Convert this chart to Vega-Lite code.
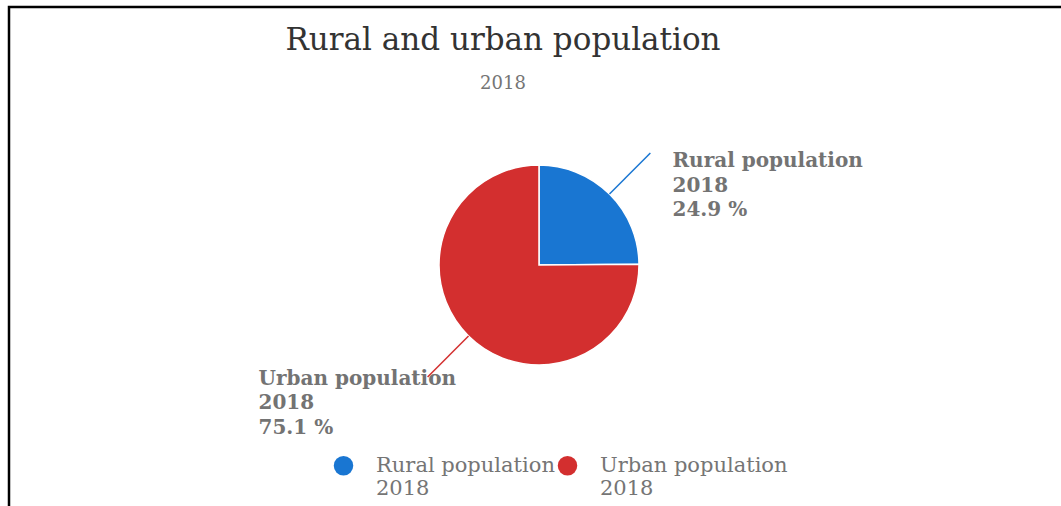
{
  "$schema": "https://vega.github.io/schema/vega-lite/v6.json",
  "width": 1060,
  "height": 516,
  "autosize": {"type": "none"},
  "padding": {"left": 9, "top": 7, "right": -8, "bottom": -17},
  "background": "#ffffff",
  "title": {
    "text": "Rural and urban population",
    "subtitle": "2018",
    "anchor": "middle",
    "dx": -36,
    "offset": -87,
    "font": "DejaVu Serif",
    "fontSize": 31,
    "fontWeight": "normal",
    "color": "#333333",
    "subtitleFont": "DejaVu Serif",
    "subtitleFontSize": 18,
    "subtitleColor": "#757575",
    "subtitlePadding": 18
  },
  "config": {"view": {"stroke": "#000000", "strokeWidth": 2.5}},
  "data": {
    "values": [
      {"category": "Rural population 2018", "value": 24.9, "label": "Rural population\n2018\n24.9 %"},
      {"category": "Urban population 2018", "value": 75.1, "label": "Urban population\n2018\n75.1 %"}
    ]
  },
  "layer": [
    {
      "mark": {"type": "arc", "outerRadius": 100, "stroke": "#ffffff", "strokeWidth": 1.5},
      "encoding": {
        "theta": {"field": "value", "type": "quantitative", "stack": true},
        "order": {"field": "category", "type": "ordinal", "sort": "ascending"},
        "color": {
          "field": "category",
          "type": "nominal",
          "scale": {"domain": ["Rural population 2018", "Urban population 2018"], "range": ["#1976d2", "#d32f2f"]},
          "legend": {
            "orient": "none",
            "legendX": 324,
            "legendY": 448,
            "direction": "horizontal",
            "title": null,
            "symbolType": "circle",
            "symbolSize": 380,
            "symbolStrokeWidth": 0,
            "symbolOpacity": 1,
            "labelFont": "DejaVu Serif",
            "labelFontSize": 21,
            "labelColor": "#757575",
            "labelOffset": 22,
            "labelLimit": 0,
            "labelBaseline": "middle",
            "labelLineHeight": 25,
            "labelExpr": "[replace(datum.label, ' 2018', ''), '2018']",
            "columnPadding": 2
          }
        }
      }
    },
    {
      "mark": {"type": "text", "radius": 100, "dx": 63, "dy": -27, "align": "left", "baseline": "alphabetic", "font": "DejaVu Serif", "fontWeight": "bold", "fontSize": 20, "fill": "#737373", "lineBreak": "\n", "lineHeight": 24.5},
      "encoding": {
        "theta": {"field": "value", "type": "quantitative", "stack": true},
        "order": {"field": "category", "type": "ordinal", "sort": "ascending"},
        "detail": {"field": "category", "type": "nominal"},
        "text": {"condition": {"test": "datum.category !== 'Rural population 2018'", "value": ""}, "field": "label", "type": "nominal"}
      }
    },
    {
      "mark": {"type": "text", "radius": 100, "dx": -210, "dy": 49, "align": "left", "baseline": "alphabetic", "font": "DejaVu Serif", "fontWeight": "bold", "fontSize": 20, "fill": "#737373", "lineBreak": "\n", "lineHeight": 24.5},
      "encoding": {
        "theta": {"field": "value", "type": "quantitative", "stack": true},
        "order": {"field": "category", "type": "ordinal", "sort": "ascending"},
        "detail": {"field": "category", "type": "nominal"},
        "text": {"condition": {"test": "datum.category !== 'Urban population 2018'", "value": ""}, "field": "label", "type": "nominal"}
      }
    },
    {
      "transform": [
        {"stack": "value", "groupby": [], "sort": [{"field": "category", "order": "ascending"}], "offset": "normalize", "as": ["s0", "s1"]},
        {"calculate": "PI * (datum.s0 + datum.s1)", "as": "a"},
        {"calculate": "sin(datum.a)", "as": "px1"},
        {"calculate": "cos(datum.a)", "as": "py1"},
        {"calculate": "1.58 * sin(datum.a)", "as": "px2"},
        {"calculate": "1.58 * cos(datum.a)", "as": "py2"}
      ],
      "mark": {"type": "rule", "strokeWidth": 1.5},
      "encoding": {
        "x": {"field": "px1", "type": "quantitative", "scale": {"domain": [-5.3, 5.3], "nice": false, "zero": false}, "axis": null},
        "x2": {"field": "px2"},
        "y": {"field": "py1", "type": "quantitative", "scale": {"domain": [-2.58, 2.58], "nice": false, "zero": false}, "axis": null},
        "y2": {"field": "py2"},
        "color": {"field": "category", "type": "nominal"}
      }
    }
  ]
}
